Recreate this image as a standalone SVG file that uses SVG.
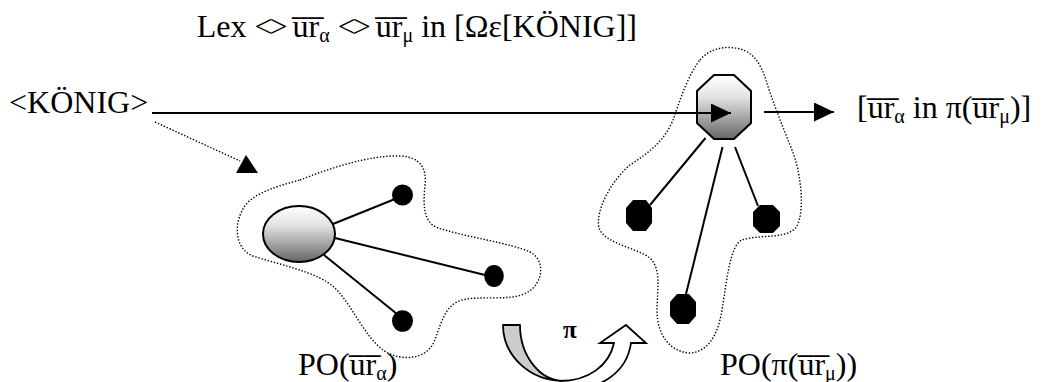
<svg xmlns="http://www.w3.org/2000/svg" width="1046" height="382" viewBox="0 0 1046 382">
  <style>
    .t { font-family: "Liberation Serif", "DejaVu Serif", serif; font-size: 32px; fill: #000; }
    .sub { font-size: 20px; }
    .dia { letter-spacing: -3px; }
    .pi { font-family: "Liberation Serif", "DejaVu Serif", serif; font-size: 25px; font-weight: bold; fill: #000; }
    .edge { stroke: #000; stroke-width: 2; fill: none; }
    .dot-line { stroke: #000; stroke-width: 1.4; stroke-dasharray: 1.4 1.8; fill: none; }
    .dot { fill: #000; }
    .shade { stroke: #000; stroke-width: 2; }
  </style>
  <defs>
    <linearGradient id="shadeGrad" x1="0" y1="0" x2="0" y2="1">
      <stop offset="0" stop-color="#ffffff"/>
      <stop offset="0.35" stop-color="#e2e2e2"/>
      <stop offset="1" stop-color="#666666"/>
    </linearGradient>
    <marker id="head" markerUnits="userSpaceOnUse" markerWidth="21" markerHeight="20" refX="20" refY="9.5" orient="auto">
      <path d="M0,0 L20,9.5 L0,19 Z" fill="#000"/>
    </marker>
  </defs>

  <!-- enclosing dotted outlines -->
  <g id="region-left">
    <path class="dot-line" d="M300,180 C330,168 370,155 400,156 C420,157 427,168 425,185 C423,205 423,222 438,228 C470,238 510,243 530,252 C546,260 543,283 528,292 C512,302 482,295 462,300 C444,305 441,325 434,342 C426,360 400,362 383,350 C365,337 352,305 335,288 C318,272 280,265 253,256 C234,249 232,220 248,202 C262,190 282,185 300,180 Z"/>
  </g>
  <g id="region-right">
    <path class="dot-line" d="M700,60 C708,50 722,46 735,48 C752,50 760,62 766,80 C772,100 782,125 792,150 C801,172 805,210 797,226 C788,240 760,234 742,240 C730,245 727,280 722,310 C718,335 708,352 690,353 C670,352 657,335 657,310 C657,290 662,270 650,258 C635,247 605,244 599,228 C595,210 612,180 630,165 C650,152 665,140 673,120 C680,100 688,75 700,60 Z"/>
  </g>

  <!-- nodes -->
  <g id="root-left">
    <ellipse class="shade" cx="299" cy="234" rx="36" ry="28" fill="url(#shadeGrad)"/>
  </g>
  <g id="leaf-left-1"><ellipse class="dot" cx="402.5" cy="195" rx="10.5" ry="10.5"/></g>
  <g id="leaf-left-2"><ellipse class="dot" cx="494" cy="276" rx="9.8" ry="11"/></g>
  <g id="leaf-left-3"><ellipse class="dot" cx="402.5" cy="321" rx="10.5" ry="10.8"/></g>

  <g id="root-right">
    <polygon class="shade" points="714,75 734,75 751,91 751,123 734,139 714,139 697,123 697,91" fill="url(#shadeGrad)"/>
  </g>
  <g id="leaf-right-1"><polygon class="dot" points="633,200 646,200 652,208 652,223 646,231 633,231 626,223 626,208"/></g>
  <g id="leaf-right-2"><polygon class="dot" points="760,205 773,205 780,212 780,226 773,233 760,233 753,226 753,212"/></g>
  <g id="leaf-right-3"><polygon class="dot" points="677,294 689,294 696,302 696,316 689,324 677,324 670,316 670,302"/></g>

  <!-- connectors -->
  <g id="connectors">
    <line class="edge" x1="152" y1="113" x2="731" y2="113" marker-end="url(#head)"/>
    <line class="edge" x1="764" y1="112" x2="834" y2="112" marker-end="url(#head)"/>
    <line class="dot-line" x1="155" y1="122" x2="240" y2="161"/>
    <polygon points="246,155 258,173 236,173" fill="#000"/>

    <line class="edge" x1="333" y1="224" x2="395" y2="199"/>
    <line class="edge" x1="335" y1="238" x2="485" y2="275"/>
    <line class="edge" x1="324" y1="255" x2="397" y2="314"/>

    <line class="edge" x1="705.5" y1="138" x2="650" y2="205"/>
    <line class="edge" x1="722.5" y1="147" x2="686" y2="294"/>
    <line class="edge" x1="735" y1="147" x2="758" y2="206"/>
  </g>

  <!-- transformation arrow -->
  <g id="pi-arrow">
    <path d="M503,325 L520,325 C520,356 540,381 564,381 C530,381 503,356 503,325 Z" fill="#cccccc" stroke="#000" stroke-width="1.8" stroke-linejoin="round"/>
    <path d="M560,381 C588,381 609,366 614,343 L600,343 L626,325 L646,343 L631,343 C627,372 602,388 572,390 Z" fill="#ffffff" stroke="#000" stroke-width="1.8" stroke-linejoin="miter"/>
    <text class="pi" x="563" y="338">π</text>
  </g>

  <!-- labels -->
  <g id="labels">
    <text class="t" x="637" y="37" text-anchor="end">Lex <tspan class="dia">&lt;&gt;</tspan> u&#x305;r&#x305;<tspan class="sub" dy="5">α</tspan><tspan dy="-5"> </tspan><tspan class="dia">&lt;&gt;</tspan> u&#x305;r&#x305;<tspan class="sub" dy="5">μ</tspan><tspan dy="-5"> in [Ωε[KÖNIG]]</tspan></text>
    <text class="t" x="9" y="113">&lt;KÖNIG&gt;</text>
    <text class="t" x="857" y="118">[u&#x305;r&#x305;<tspan class="sub" dy="5">α</tspan><tspan dy="-5"> in π(u&#x305;r&#x305;</tspan><tspan class="sub" dy="5">μ</tspan><tspan dy="-5">)]</tspan></text>
    <text class="t" x="298" y="375">PO(u&#x305;r&#x305;<tspan class="sub" dy="5">α</tspan><tspan dy="-5">)</tspan></text>
    <text class="t" x="720" y="375">PO(π(u&#x305;r&#x305;<tspan class="sub" dy="5">μ</tspan><tspan dy="-5">))</tspan></text>
  </g>
</svg>
